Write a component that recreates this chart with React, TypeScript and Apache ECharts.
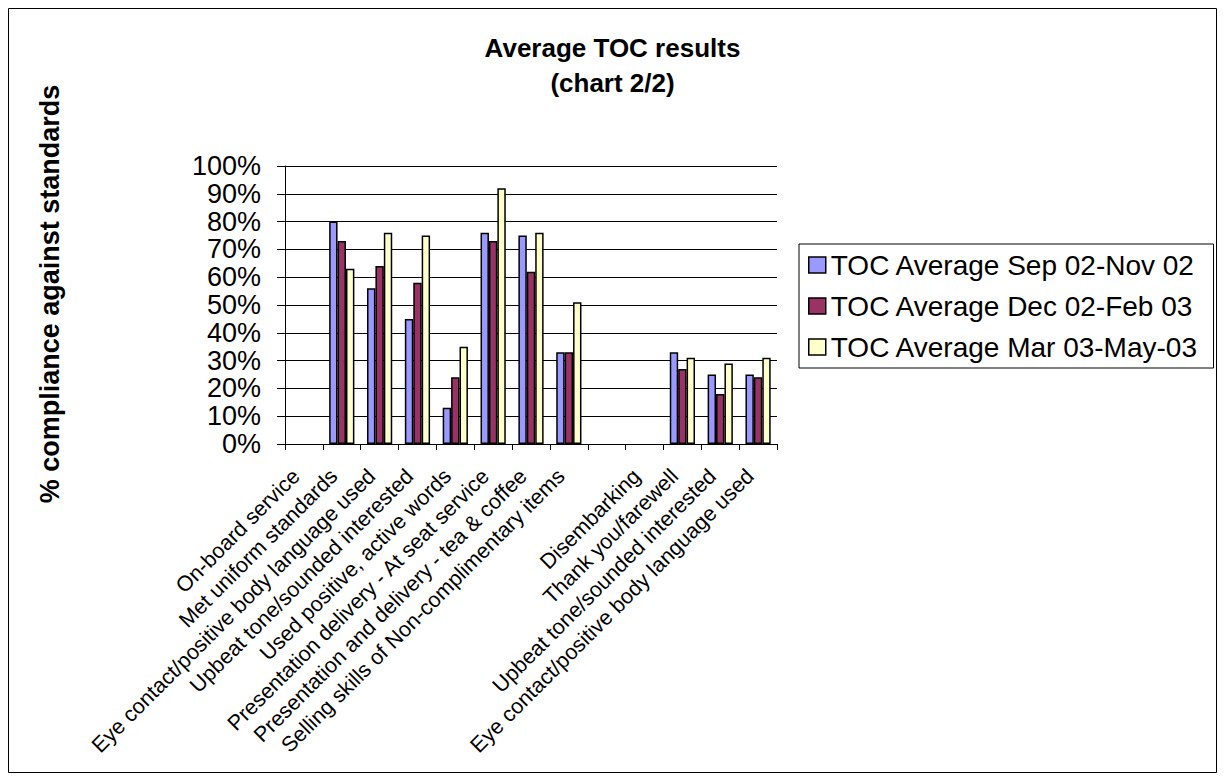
import React, { useEffect, useRef } from "react";
import * as echarts from "echarts";

const categories = [
  "On-board service",
  "Met uniform standards",
  "Eye contact/positive body language used",
  "Upbeat tone/sounded interested",
  "Used positive, active words",
  "Presentation delivery - At seat service",
  "Presentation and delivery - tea & coffee",
  "Selling skills of Non-complimentary items",
  "",
  "Disembarking",
  "Thank you/farewell",
  "Upbeat tone/sounded interested",
  "Eye contact/positive body language used",
];

const seriesNames = [
  "TOC Average Sep 02-Nov 02",
  "TOC Average Dec 02-Feb 03",
  "TOC Average Mar 03-May-03",
];

const sepNov02 = [null, 80, 56, 45, 13, 76, 75, 33, null, null, 33, 25, 25];
const decFeb03 = [null, 73, 64, 58, 24, 73, 62, 33, null, null, 27, 18, 24];
const marMay03 = [null, 63, 76, 75, 35, 92, 76, 51, null, null, 31, 29, 31];

const seriesColors = ["#9999FF", "#993366", "#FFFFCC"];

const yTicks = [0, 10, 20, 30, 40, 50, 60, 70, 80, 90, 100];

const FONT = '"Liberation Sans", Arial, sans-serif';

export default function App() {
  const ref = useRef<HTMLDivElement>(null);

  useEffect(() => {
    if (!ref.current) return;
    const chart = echarts.init(ref.current, undefined, { renderer: "svg" });
    const data = [sepNov02, decFeb03, marMay03];
    chart.setOption({
      animation: false,
      backgroundColor: "#ffffff",
      textStyle: { fontFamily: FONT },
      title: {
        text: "Average TOC results\n(chart 2/2)",
        left: "center",
        top: 30,
        padding: 0,
        textStyle: {
          fontFamily: FONT,
          fontWeight: "bold",
          fontSize: 26,
          lineHeight: 35,
          color: "#000",
        },
      },
      graphic: [
        {
          type: "rect",
          shape: { x: 8.5, y: 8.5, width: 1208, height: 764 },
          style: { fill: "none", stroke: "#000", lineWidth: 1 },
          silent: true,
          z: -1,
        },
        {
          type: "text",
          x: 50,
          y: 294,
          rotation: Math.PI / 2,
          style: {
            text: "% compliance against standards",
            fontFamily: FONT,
            fontWeight: "bold",
            fontSize: 27,
            fill: "#000",
            align: "center",
            verticalAlign: "middle",
          },
        },
      ],
      legend: {
        orient: "vertical",
        left: 799,
        top: 244,
        padding: [7, 15, 7, 9],
        itemGap: 13,
        itemWidth: 17,
        itemHeight: 16,
        borderColor: "#000",
        borderWidth: 1,
        icon: "rect",
        textStyle: { fontFamily: FONT, fontSize: 28, color: "#000" },
        data: seriesNames,
        itemStyle: { borderColor: "#000", borderWidth: 1.5 },
      },
      grid: {
        left: 285,
        top: 166,
        width: 492,
        height: 278,
        containLabel: false,
      },
      xAxis: {
        type: "category",
        data: categories,
        boundaryGap: true,
        axisLine: { lineStyle: { color: "#000", width: 1 } },
        axisTick: { show: true, interval: 0, length: 6, lineStyle: { color: "#000" } },
        axisLabel: {
          interval: 0,
          rotate: 45,
          margin: 21,
          padding: [0, 11, 0, 0],
          fontFamily: FONT,
          fontSize: 21.5,
          color: "#000",
        },
        splitLine: { show: false },
      },
      yAxis: {
        type: "value",
        min: yTicks[0],
        max: yTicks[yTicks.length - 1],
        interval: 10,
        axisLine: { show: true, lineStyle: { color: "#000", width: 1 } },
        axisTick: { show: true, length: 8, lineStyle: { color: "#000" } },
        axisLabel: {
          formatter: "{value}%",
          fontFamily: FONT,
          fontSize: 27,
          color: "#000",
          margin: 24,
        },
        splitLine: { show: true, lineStyle: { color: "#000", width: 1 } },
      },
      series: seriesNames.map((name, i) => ({
        name,
        type: "bar",
        data: data[i],
        barGap: "0%",
        barCategoryGap: "33.3%",
        itemStyle: {
          color: seriesColors[i],
          borderColor: "#000",
          borderWidth: 1.5,
        },
      })),
    });
    return () => chart.dispose();
  }, []);

  return (
    <div
      ref={ref}
      style={{ position: "absolute", left: 0, top: 0, width: 1225, height: 780 }}
    />
  );
}
